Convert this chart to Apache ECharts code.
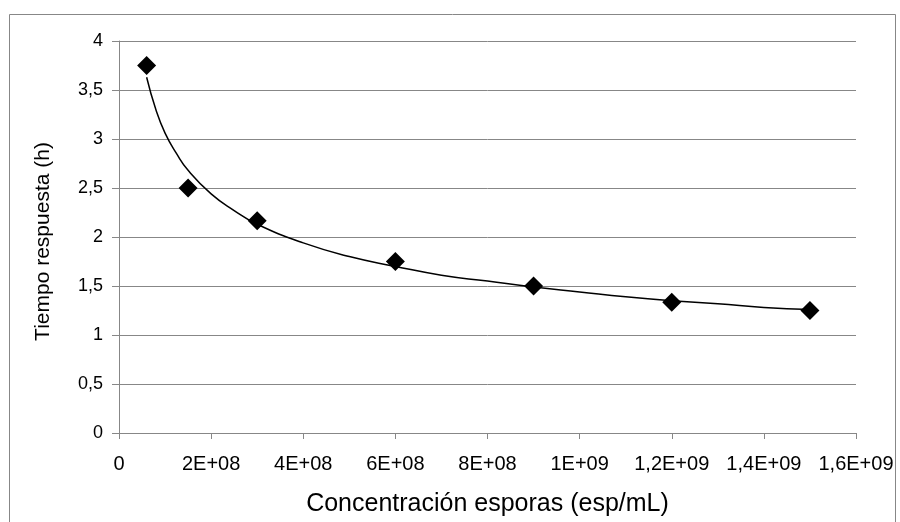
<!DOCTYPE html>
<html>
<head>
<meta charset="utf-8">
<script src="https://cdn.jsdelivr.net/npm/echarts@6/dist/echarts.min.js"></script>
<style>html,body{margin:0;padding:0;background:#fff}#c{width:900px;height:522px}</style>
</head>
<body>
<div id="c"></div>
<script>
// Measured points
const xValues = [6e7, 1.5e8, 3e8, 6e8, 9e8, 1.2e9, 1.5e9];
const yValues = [3.75, 2.5, 2.167, 1.75, 1.5, 1.333, 1.25];
// Trend line
const trendX = [6e7, 8e7, 1e8, 1.25e8, 1.5e8, 2e8, 2.5e8, 3e8, 4e8, 5e8, 6e8, 7e8, 8e8, 9e8, 1e9, 1.1e9, 1.2e9, 1.3e9, 1.4e9, 1.5e9];
const trendY = [3.63, 3.30, 3.06, 2.85, 2.68, 2.44, 2.27, 2.13, 1.94, 1.80, 1.70, 1.61, 1.55, 1.49, 1.44, 1.39, 1.35, 1.32, 1.28, 1.26];
// Tick labels
const xTickLabels = ["0", "2E+08", "4E+08", "6E+08", "8E+08", "1E+09", "1,2E+09", "1,4E+09", "1,6E+09"];
const yTickLabels = ["0", "0,5", "1", "1,5", "2", "2,5", "3", "3,5", "4"];
const xTitle = "Concentración esporas (esp/mL)";
const yTitle = "Tiempo respuesta (h)";

const FONT = '"Liberation Sans", Arial, sans-serif';
const GRAY = '#878787';
const chart = echarts.init(document.getElementById('c'), null, {renderer: 'canvas'});
chart.setOption({
  animation: false,
  backgroundColor: '#fff',
  graphic: [{
    type: 'rect', silent: true, z: 0,
    shape: {x: 9.5, y: 14.5, width: 886, height: 530},
    style: {fill: 'none', stroke: GRAY, lineWidth: 1}
  }],
  grid: {left: 119, right: 44, top: 41, bottom: 89, containLabel: false},
  xAxis: {
    type: 'value', min: 0, max: 1.6e9, interval: 2e8,
    name: xTitle, nameLocation: 'middle', nameGap: 59,
    nameTextStyle: {fontFamily: FONT, fontSize: 25, color: '#000'},
    axisLine: {show: true, lineStyle: {color: GRAY, width: 1}},
    axisTick: {show: true, length: 6, lineStyle: {color: GRAY}},
    axisLabel: {fontFamily: FONT, fontSize: 20, color: '#000', margin: 21,
      formatter: (v) => xTickLabels[Math.round(v / 2e8)]},
    splitLine: {show: false}
  },
  yAxis: {
    type: 'value', min: 0, max: 4, interval: 0.5,
    name: yTitle, nameLocation: 'middle', nameGap: 65,
    nameTextStyle: {fontFamily: FONT, fontSize: 21, color: '#000', padding: [0, 9, 0, 0]},
    axisLine: {show: true, lineStyle: {color: GRAY, width: 1}},
    axisTick: {show: true, length: 7, lineStyle: {color: GRAY}},
    axisLabel: {fontFamily: FONT, fontSize: 18, color: '#000', margin: 16,
      formatter: (v) => yTickLabels[Math.round(v / 0.5)]},
    splitLine: {show: true, lineStyle: {color: GRAY, width: 1}}
  },
  series: [{
    type: 'line', smooth: true, showSymbol: false, z: 2,
    data: trendX.map((x, i) => [x, trendY[i]]),
    lineStyle: {color: '#000', width: 1.5}
  }, {
    type: 'scatter', symbol: 'diamond', symbolSize: 19, z: 3,
    data: xValues.map((x, i) => [x, yValues[i]]),
    itemStyle: {color: '#000', opacity: 1}
  }]
});
</script>
</body>
</html>
